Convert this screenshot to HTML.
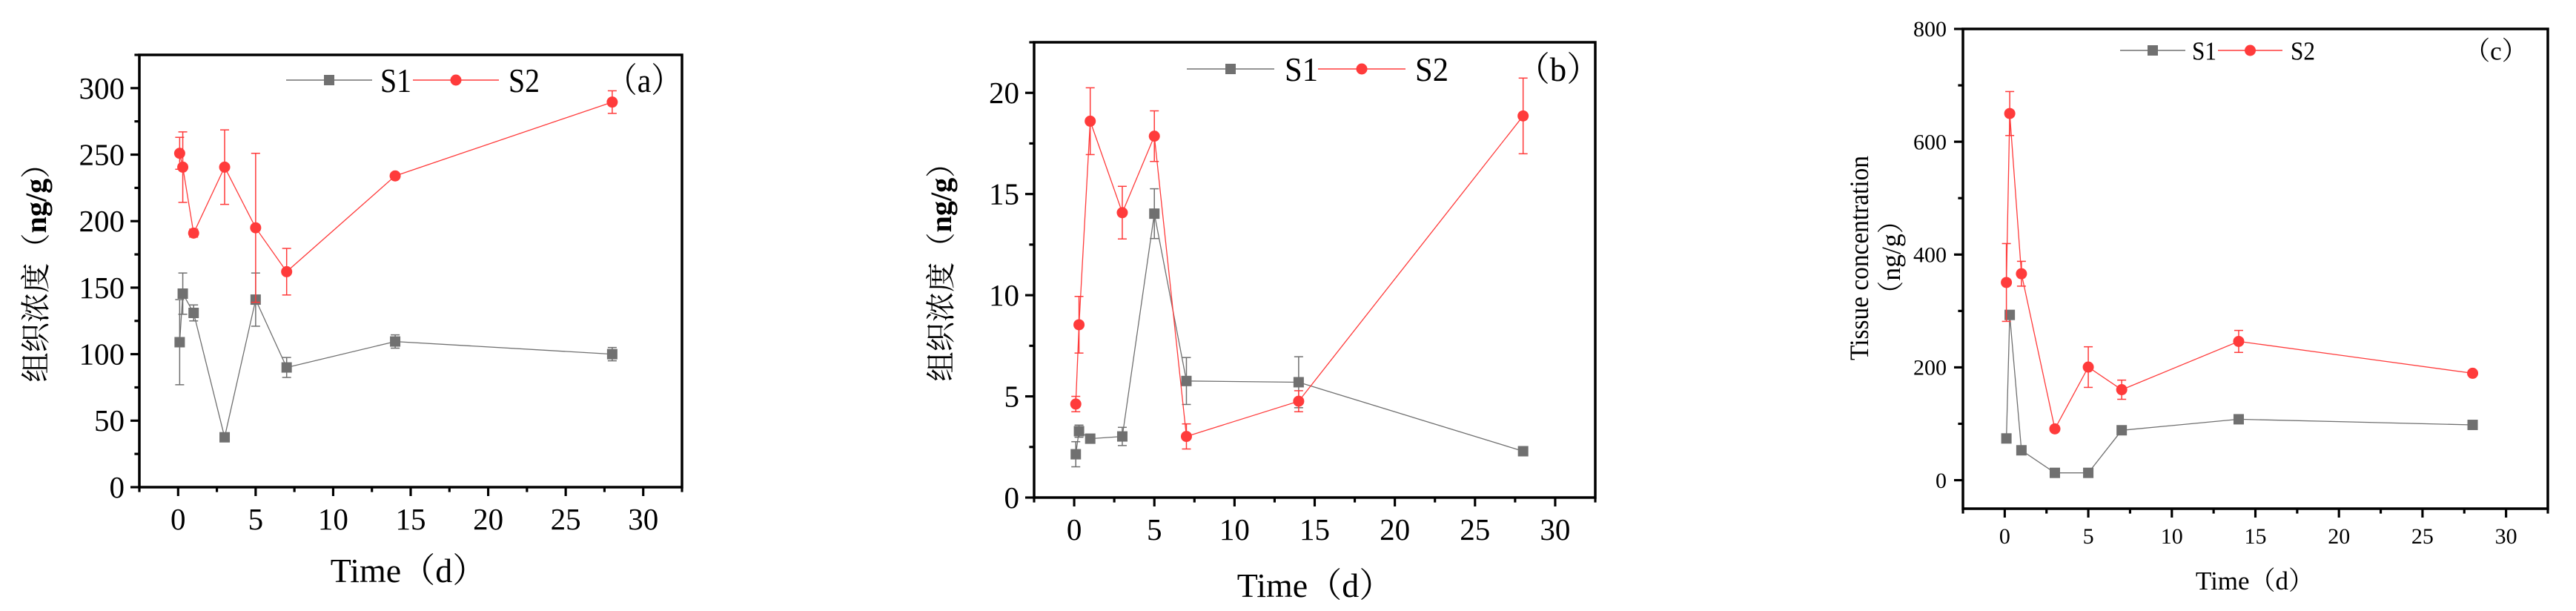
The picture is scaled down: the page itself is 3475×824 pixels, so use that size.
<!DOCTYPE html>
<html><head><meta charset="utf-8"><style>
html,body{margin:0;padding:0;background:#fff;}
svg{display:block;}
text{font-family:"Liberation Serif","Noto Serif CJK SC",serif;fill:#000;}
</style></head><body>
<svg id="chart" width="3475" height="824" viewBox="0 0 3475 824" xmlns="http://www.w3.org/2000/svg"></svg>
<script>
// ---- data ----
const timesA = [0.1, 0.3, 1, 3, 5, 7, 14, 28];
const s1A = [109, 145.5, 131, 37.5, 141, 90, 109.5, 100];
const s1AErr = [32, 15.5, 6, 3, 20, 7.5, 5, 5];
const s2A = [251, 240.6, 191, 240.6, 195, 162, 234, 289.5];
const s2AErr = [12, 26.5, 3, 28, 56, 17.5, 2, 8.5];

const timesB = [0.1, 0.3, 1, 3, 5, 7, 14, 28];
const s1B = [2.14, 3.28, 2.91, 3.02, 14.03, 5.76, 5.70, 2.29];
const s1BErr = [0.62, 0.3, 0.1, 0.45, 1.23, 1.16, 1.26, 0.1];
const s2B = [4.62, 8.54, 18.6, 14.08, 17.86, 3.02, 4.76, 18.86];
const s2BErr = [0.38, 1.4, 1.65, 1.3, 1.25, 0.62, 0.52, 1.87];

const timesC = [0.1, 0.3, 1, 3, 5, 7, 14, 28];
const s1C = [74, 293, 53, 13, 13, 88.5, 108, 98];
const s1CErr = [0, 5, 0, 0, 0, 0, 0, 0];
const s2C = [350.5, 650, 366, 91, 200.5, 160.4, 246, 189.5];
const s2CErr = [69, 39, 22, 0, 36, 17, 19.5, 0];

const xTicks = [0, 5, 10, 15, 20, 25, 30];
const yTicksA = [0, 50, 100, 150, 200, 250, 300];
const yTicksB = [0, 5, 10, 15, 20];
const yTicksC = [0, 200, 400, 600, 800];

const NS = "http://www.w3.org/2000/svg";
const svg = document.getElementById("chart");
const GRAY = "#707070", RED = "#ff3b3b";

function mk(tag, attrs, parent){
  const e = document.createElementNS(NS, tag);
  for (const k in attrs) e.setAttribute(k, attrs[k]);
  (parent||svg).appendChild(e);
  return e;
}

function panel(cfg){
  const g = mk("g", {});
  
  
  const X = v => cfg.L + (v - cfg.xmin) / (cfg.xmax - cfg.xmin) * (cfg.R - cfg.L);
  const Y = v => cfg.B - (v - cfg.ymin) / (cfg.ymax - cfg.ymin) * (cfg.B - cfg.T);

  const box = mk("rect", {x:cfg.L, y:cfg.T, width:cfg.R-cfg.L, height:cfg.B-cfg.T, fill:"none", stroke:"#000", "stroke-width":cfg.aw}, g);
  
  

  const xt = mk("g", {}, g);
  
  
  for (let v = -2.5; v <= 32.5; v += 2.5){
    const major = Math.abs(v/5 - Math.round(v/5)) < 1e-6;
    mk("line", {x1:X(v), x2:X(v), y1:cfg.B, y2:cfg.B + (major?cfg.tl:cfg.tl*0.55), stroke:"#000", "stroke-width":cfg.aw*0.9}, xt);
  }
  xTicks.forEach(v => {
    const t = mk("text", {x:X(v), y:cfg.xlY, "font-size":cfg.fs, "text-anchor":"middle"}, xt);
    t.textContent = v;
    
    
  });
  const yt = mk("g", {}, g);
  
  
  const step = cfg.yTicks[1] - cfg.yTicks[0];
  for (let v = cfg.yTicks[0] - step; v <= cfg.ymax + 1e-6; v += step/2){
    if (v < cfg.ymin - 1e-6) continue;
    const major = Math.abs((v - cfg.yTicks[0])/step - Math.round((v - cfg.yTicks[0])/step)) < 1e-6;
    mk("line", {x1:cfg.L - (major?cfg.tl:cfg.tl*0.55), x2:cfg.L, y1:Y(v), y2:Y(v), stroke:"#000", "stroke-width":cfg.aw*0.9}, yt);
  }
  cfg.yTicks.forEach(v => {
    const t = mk("text", {x:cfg.ylX, y:Y(v) + cfg.fs*0.34, "font-size":cfg.fs, "text-anchor":"end"}, yt);
    t.textContent = v;
    
    
  });

  function series(xs, ys, es, color, shape, nm){
    const sg = mk("g", {}, g);
    
    
    xs.forEach((x, i) => {
      if (!es[i]) return;
      const px = X(x), y1 = Y(ys[i] + es[i]), y2 = Y(ys[i] - es[i]);
      mk("line", {x1:px, x2:px, y1:y1, y2:y2, stroke:color, "stroke-width":1.5}, sg);
      mk("line", {x1:px-6, x2:px+6, y1:y1, y2:y1, stroke:color, "stroke-width":1.5}, sg);
      mk("line", {x1:px-6, x2:px+6, y1:y2, y2:y2, stroke:color, "stroke-width":1.5}, sg);
    });
    const pts = xs.map((x, i) => X(x).toFixed(1) + "," + Y(ys[i]).toFixed(1)).join(" ");
    const pl = mk("polyline", {points:pts, fill:"none", stroke:color, "stroke-width":1.3}, sg);
    
    
    xs.forEach((x, i) => {
      let m;
      if (shape === "sq") m = mk("rect", {x:X(x)-7, y:Y(ys[i])-7, width:14, height:14, fill:color}, sg);
      else m = mk("circle", {cx:X(x), cy:Y(ys[i]), r:7.5, fill:color}, sg);
      
      
    });
  }
  series(cfg.xs, cfg.s1, cfg.e1, GRAY, "sq", "series-s1");
  series(cfg.xs, cfg.s2, cfg.e2, RED, "ci", "series-s2");

  const lg = mk("g", {}, g);
  
  
  const lc = cfg.leg;
  mk("line", {x1:lc.l1a, x2:lc.l1b, y1:lc.y, y2:lc.y, stroke:GRAY, "stroke-width":1.5}, lg);
  mk("rect", {x:(lc.l1a+lc.l1b)/2-7, y:lc.y-7, width:14, height:14, fill:GRAY}, lg);
  const t1 = mk("text", {x:lc.t1, y:lc.y + lc.fs*0.35, "font-size":lc.fs, textLength:lc.tw, lengthAdjust:"spacingAndGlyphs"}, lg);
  t1.textContent = "S1";
  
  
  mk("line", {x1:lc.l2a, x2:lc.l2b, y1:lc.y, y2:lc.y, stroke:RED, "stroke-width":1.5}, lg);
  mk("circle", {cx:(lc.l2a+lc.l2b)/2, cy:lc.y, r:7.5, fill:RED}, lg);
  const t2 = mk("text", {x:lc.t2, y:lc.y + lc.fs*0.35, "font-size":lc.fs, textLength:lc.tw, lengthAdjust:"spacingAndGlyphs"}, lg);
  t2.textContent = "S2";
  
  
  const pl = mk("text", {x:lc.p, y:lc.y + lc.fs*0.35, "font-size":lc.fs, textLength:lc.pw, lengthAdjust:"spacingAndGlyphs"}, g);
  pl.textContent = cfg.label;
  
  

  const xtl = mk("text", {x:cfg.xtX, y:cfg.xtY, "font-size":cfg.tfs, "text-anchor":"middle"}, g);
  xtl.textContent = "Time（d）";
  
  
  return {X, Y, g};
}

const common = {xmin:-2.5, xmax:32.5, aw:3.5, tl:12};

panel(Object.assign({}, common, {name:"panel-a", L:188, R:920, T:74, B:657, ymin:0, ymax:325, yTicks:yTicksA,
  fs:41, xlY:714, ylX:168, xs:timesA, s1:s1A, e1:s1AErr, s2:s2A, e2:s2AErr, label:"（a）", tfs:46, xtX:551, xtY:785,
  leg:{y:108, l1a:386, l1b:502, t1:513, l2a:557, l2b:673, t2:686, tw:42, fs:46, p:818, pw:102}}));
panel(Object.assign({}, common, {name:"panel-b", L:1395, R:2152, T:57, B:671, ymin:0, ymax:22.5, yTicks:yTicksB,
  fs:41, xlY:728, ylX:1375, xs:timesB, s1:s1B, e1:s1BErr, s2:s2B, e2:s2BErr, label:"（b）", tfs:46, xtX:1774, xtY:805,
  leg:{y:93, l1a:1601, l1b:1719, t1:1733, l2a:1778, l2b:1896, t2:1909, tw:45, fs:46, p:2046, pw:112}}));
panel(Object.assign({}, common, {name:"panel-c", L:2648, R:3437, T:39, B:686, ymin:-50.5, ymax:800, yTicks:yTicksC,
  fs:30, xlY:733, ylX:2626, xs:timesC, s1:s1C, e1:s1CErr, s2:s2C, e2:s2CErr, label:"（c）", tfs:35, xtX:3042, xtY:795,
  leg:{y:68, l1a:2860, l1b:2948, t1:2957, l2a:2992, l2b:3079, t2:3090, tw:33, fs:35, p:3324, pw:86}}));

function ytitleCN(cx, cy, nm){
  const t = mk("text", {transform:`translate(${cx},${cy}) rotate(-90)`, "font-size":40, "text-anchor":"middle", textLength:315, lengthAdjust:"spacingAndGlyphs"});
  
  
  const a = mk("tspan", {}, t); a.textContent = "组织浓度（";
  const b = mk("tspan", {"font-weight":"bold"}, t); b.textContent = "ng/g";
  const c = mk("tspan", {}, t); c.textContent = "）";
}
ytitleCN(62, 358, "y-axis-title-a");
ytitleCN(1283, 357, "y-axis-title-b");
const tc1 = mk("text", {transform:"translate(2520,348) rotate(-90)", "font-size":36, "text-anchor":"middle", textLength:276, lengthAdjust:"spacingAndGlyphs"});
tc1.textContent = "Tissue concentration";


const tc2 = mk("text", {transform:"translate(2563,347) rotate(-90)", "font-size":36, "text-anchor":"middle", textLength:135, lengthAdjust:"spacingAndGlyphs"});
tc2.textContent = "（ng/g）";


</script>
</body></html>
